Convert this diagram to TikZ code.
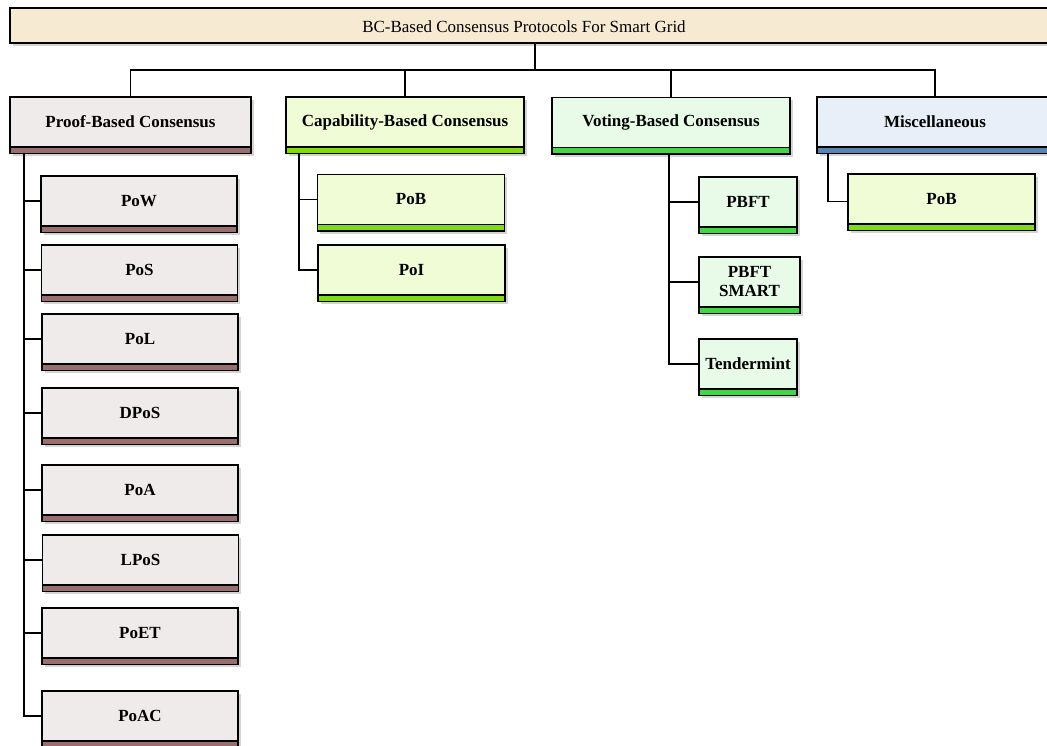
\documentclass[tikz,border=0pt]{standalone}
\usepackage{fontspec}
\setmainfont{Liberation Serif}
\definecolor{topF}{HTML}{F7EAD3}
\definecolor{proofF}{HTML}{EFEBEA}
\definecolor{proofS}{HTML}{9A6E6E}
\definecolor{capF}{HTML}{EFFCD6}
\definecolor{capS}{HTML}{80DC0C}
\definecolor{voteF}{HTML}{E8FBE8}
\definecolor{voteS}{HTML}{40D840}
\definecolor{miscF}{HTML}{E8EFF8}
\definecolor{miscS}{HTML}{5485B4}
\definecolor{shadowc}{HTML}{D4D4D4}
\newcommand\tbox[7]{%
  \fill[shadowc] ({#3+2.5},{#4+2.5}) rectangle ({#3+#5+2.5},{#4+59});
  \node[#1, minimum width=#5pt] (#2) at (#3,#4) {#7};
  \draw[stripline, fill=#6] (#2.south west) rectangle ([yshift=-6.5pt]#2.south east);
}
\begin{document}
\begin{tikzpicture}[x=1pt,y=-1pt,
  box/.style={draw=black, line width=1.6pt, minimum height=50pt, anchor=north west,
    inner sep=0pt, outer sep=0pt, align=center,
    font=\bfseries\fontsize{17}{19}\selectfont},
  proofbox/.style={box, fill=proofF},
  capbox/.style={box, fill=capF},
  votebox/.style={box, fill=voteF},
  miscbox/.style={box, fill=miscF},
  stripline/.style={draw=black, line width=1.6pt},
  conn/.style={draw=black, line width=1.6pt},
  rootbox/.style={draw=black, line width=1.6pt, fill=topF, minimum width=1050pt,
    minimum height=35pt, inner sep=0pt, outer sep=0pt}
]
\useasboundingbox (0,0) rectangle (1047,745);
\clip (0,0) rectangle (1047,745);
\fill[white] (0,0) rectangle (1047,745);

% root bar
\fill[shadowc] (12.5,10.5) rectangle (1062,45.5);
\node[rootbox] (root) at (535,25.5) {};
\node[font=\fontsize{17}{19}\selectfont] (roottxt) at (524,26.5) {BC-Based Consensus Protocols For Smart Grid};

% categories
\tbox{proofbox}{proof}{10}{97}{241}{proofS}{Proof-Based Consensus}
\tbox{capbox}{cap}{286}{97}{238}{capS}{Capability-Based Consensus}
\tbox{votebox}{vote}{552}{97.5}{238}{voteS}{Voting-Based Consensus}
\tbox{miscbox}{misc}{817}{97}{236}{miscS}{Miscellaneous}

\draw[conn] (root.south) -- ++(0,27) coordinate (bus);
\draw[conn] (proof.north) |- (bus) -| (misc.north);
\draw[conn] (cap.north) -- (cap.north |- bus);
\draw[conn] (vote.north) -- (vote.north |- bus);

% proof children
\tbox{proofbox}{pow}{41}{176}{196}{proofS}{PoW}
\tbox{proofbox}{pos}{41.5}{245}{196}{proofS}{PoS}
\tbox{proofbox}{pol}{42}{314}{196}{proofS}{PoL}
\tbox{proofbox}{dpos}{42}{388}{196}{proofS}{DPoS}
\tbox{proofbox}{poa}{42}{465}{196}{proofS}{PoA}
\tbox{proofbox}{lpos}{42.5}{535}{196}{proofS}{LPoS}
\tbox{proofbox}{poet}{42}{608}{196}{proofS}{PoET}
\tbox{proofbox}{poac}{42}{691}{196}{proofS}{PoAC}

\coordinate (ptrunk) at (24,154);
\foreach \c in {pow,pos,pol,dpos,poa,lpos,poet,poac}
  \draw[conn] (ptrunk) |- (\c.west);

% capability children
\tbox{capbox}{pob}{317.5}{174.5}{187}{capS}{PoB}
\tbox{capbox}{poi}{318}{245}{187}{capS}{PoI}
\coordinate (ctrunk) at (299,154);
\draw[conn] (ctrunk) |- (pob.west);
\draw[conn] (ctrunk) |- (poi.west);

% voting children
\tbox{votebox}{pbft}{699}{177}{98}{voteS}{PBFT}
\tbox{votebox}{smart}{699}{257}{101}{voteS}{PBFT\\SMART}
\tbox{votebox}{tender}{699}{339}{98}{voteS}{Tendermint}
\coordinate (vtrunk) at (669,154);
\draw[conn] (vtrunk) |- (pbft.west);
\draw[conn] (vtrunk) |- (smart.west);
\draw[conn] (vtrunk) |- (tender.west);

% misc child
\tbox{capbox}{mpob}{848}{174}{187}{capS}{PoB}
\coordinate (mtrunk) at (828,154);
\draw[conn] (mtrunk) |- ([yshift=-2.5pt]mpob.west);
\end{tikzpicture}
\end{document}
